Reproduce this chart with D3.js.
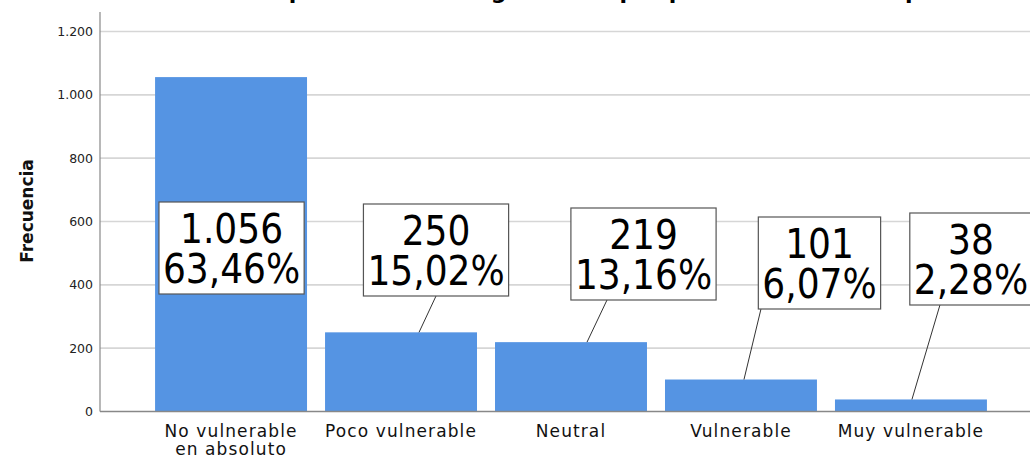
<!DOCTYPE html>
<html>
<head>
<meta charset="utf-8">
<script src="https://cdn.jsdelivr.net/npm/d3@7"></script>
<style>
  html, body { margin: 0; padding: 0; background: #fff; }
  svg { display: block; }
</style>
</head>
<body>
<svg id="chart" width="1030" height="461"></svg>
<script>
// ---- data ----
const categories = [["No vulnerable", "en absoluto"], ["Poco vulnerable"], ["Neutral"], ["Vulnerable"], ["Muy vulnerable"]];
const counts = [1056, 250, 219, 101, 38];
const yTicks = [0, 200, 400, 600, 800, 1000, 1200];
const yTitle = "Frecuencia";
const chartTitle = "Vulnerabilidad percibida ante agresiones por parte de otros compañeros";

// ---- label layout (offsets of callout boxes relative to their bars) ----
const boxDx = [0.5, 35, 72.5, 78.5, 60];
const boxTop = [202, 204, 208, 217, 213];
const leaderFromDx = [null, 0, -36.5, -58.5, -31];
const leaderToDx = [null, 18, 16, 3, 1];

const locale = d3.formatLocale({decimal: ",", thousands: ".", grouping: [3], currency: ["", "€"]});
const fmtInt = locale.format(",d");
const fmtPct = locale.format(",.2f");
const total = d3.sum(counts);

const svg = d3.select("#chart");
const W = 1030, H = 461;

const x = d3.scaleBand()
  .domain(d3.range(categories.length))
  .range([100, 1042])
  .paddingInner(0.106)
  .paddingOuter(0.324);

const y = d3.scaleLinear().domain([0, 1200]).range([411.5, 31.5]);

// title (cut off at the top edge in the reference: only descenders show)
svg.append("text")
  .attr("x", 553).attr("y", -1)
  .attr("text-anchor", "middle")
  .attr("font-family", "DejaVu Sans")
  .attr("font-weight", "bold")
  .attr("font-size", 22)
  .attr("fill", "#000")
  .text(chartTitle);

// gridlines
svg.append("g")
  .selectAll("line")
  .data(yTicks.filter(d => d > 0))
  .join("line")
  .attr("x1", 100).attr("x2", W)
  .attr("y1", d => y(d)).attr("y2", d => y(d))
  .attr("stroke", "#d6d6d6")
  .attr("stroke-width", 1.6);

// bars
svg.append("g")
  .selectAll("rect")
  .data(counts)
  .join("rect")
  .attr("x", (d, i) => x(i))
  .attr("width", x.bandwidth())
  .attr("y", d => y(d))
  .attr("height", d => y(0) - y(d))
  .attr("fill", "#5594e3");

// y axis
const yAxis = d3.axisLeft(y).tickValues(yTicks).tickFormat(fmtInt).tickSize(0).tickPadding(7);
const gy = svg.append("g").attr("transform", "translate(100,0)").call(yAxis);
gy.select(".domain").remove();
gy.selectAll("text")
  .attr("font-family", "DejaVu Sans")
  .attr("font-size", 12.5)
  .attr("fill", "#222");
svg.append("line")
  .attr("x1", 100).attr("x2", 100)
  .attr("y1", 12).attr("y2", y(0))
  .attr("stroke", "#888").attr("stroke-width", 1.2);

// x axis line
svg.append("line")
  .attr("x1", 100).attr("x2", W)
  .attr("y1", y(0)).attr("y2", y(0))
  .attr("stroke", "#888").attr("stroke-width", 1.5);

// x labels
const xl = svg.append("g")
  .selectAll("text")
  .data(categories)
  .join("text")
  .attr("x", (d, i) => x(i) + x.bandwidth() / 2)
  .attr("y", 437)
  .attr("text-anchor", "middle")
  .attr("font-family", "DejaVu Sans")
  .attr("font-size", 17)
  .attr("letter-spacing", 1.1)
  .attr("fill", "#111");
xl.selectAll("tspan")
  .data(d => d)
  .join("tspan")
  .attr("x", function() { return d3.select(this.parentNode).attr("x"); })
  .attr("dy", (d, i) => i === 0 ? 0 : 17.5)
  .text(d => d);

// y title
svg.append("text")
  .attr("transform", "translate(33,211) rotate(-90)")
  .attr("text-anchor", "middle")
  .attr("font-family", "DejaVu Sans")
  .attr("font-weight", "bold")
  .attr("font-size", 17)
  .attr("fill", "#111")
  .text(yTitle);

// callout labels
const labels = svg.append("g");
counts.forEach((v, i) => {
  const cx = x(i) + x.bandwidth() / 2;
  const bx = cx + boxDx[i];
  const top = boxTop[i];
  const boxH = 92;
  if (leaderFromDx[i] !== null) {
    labels.append("line")
      .attr("x1", bx + leaderFromDx[i]).attr("y1", top + boxH)
      .attr("x2", cx + leaderToDx[i]).attr("y2", y(v))
      .attr("stroke", "#333").attr("stroke-width", 1);
  }
  const g = labels.append("g");
  const rect = g.append("rect").attr("fill", "#fff").attr("stroke", "#555").attr("stroke-width", 1.2);
  const t = g.append("text")
    .attr("text-anchor", "middle")
    .attr("font-family", "'DejaVu Sans Condensed', 'DejaVu Sans'")
    .attr("font-stretch", "condensed")
    .attr("font-size", 40)
    .attr("fill", "#000");
  t.append("tspan").attr("x", bx).attr("y", top + 41).text(fmtInt(v));
  t.append("tspan").attr("x", bx).attr("y", top + 81).text(fmtPct(v / total * 100) + "%");
  const bb = t.node().getBBox();
  const w = bb.width + 8;
  rect.attr("x", bx - w / 2).attr("y", top).attr("width", w).attr("height", boxH);
});
</script>
</body>
</html>
